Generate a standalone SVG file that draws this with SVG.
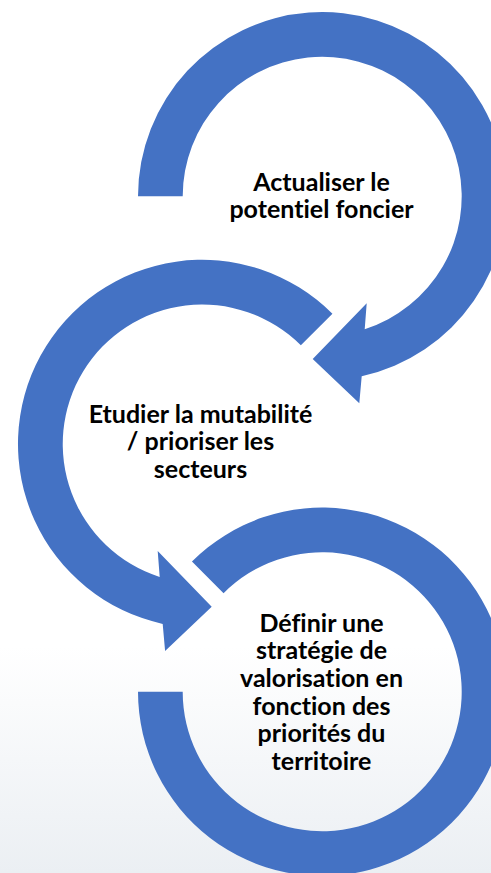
<svg xmlns="http://www.w3.org/2000/svg" width="491" height="873" viewBox="0 0 491 873">
  <defs>
    <linearGradient id="bg" x1="0" y1="0" x2="0" y2="873" gradientUnits="userSpaceOnUse">
      <stop offset="0" stop-color="#ffffff"/>
      <stop offset="0.74" stop-color="#ffffff"/>
      <stop offset="1" stop-color="#ebeff3"/>
    </linearGradient>
  </defs>
  <style>
    .arc { fill: #4472C4; stroke: none; }
    .lbl { font-family: Lato, "Liberation Sans", sans-serif; font-weight: bold; font-size: 25px; fill: #000000; text-anchor: middle; font-variant-ligatures: none; font-feature-settings: "liga" 0, "dlig" 0; }
  </style>
  <rect x="0" y="0" width="491" height="873" fill="url(#bg)"/>
  <g id="connectors"/>
  <g id="node1">
    <path class="arc" d="M 138.0 196.3 A 184.2 184.2 0 1 1 361.7 376.2 L 359.3 403.3 L 312.7 359.0 L 366.7 303.3 L 364.7 329.2 A 139.5 139.5 0 1 0 182.7 196.3 Z"/>
    <text class="lbl" x="321.5" y="190.6">Actualiser le</text>
    <text class="lbl" x="321.5" y="218.3">potentiel foncier</text>
  </g>
  <g id="node2">
    <path class="arc" d="M 332.45 313.75 A 184.2 184.2 0 1 0 162.7 623.9 L 165.1 651 L 211.7 606.7 L 157.7 551 L 159.7 576.9 A 139.5 139.5 0 1 1 300.84 345.36 Z"/>
    <text class="lbl" x="200.5" y="422.5">Etudier la mutabilité</text>
    <text class="lbl" x="200.5" y="450">/ prioriser les</text>
    <text class="lbl" x="200.5" y="477.5">secteurs</text>
  </g>
  <g id="node3">
    <path class="arc" d="M 191.95 561.55 A 184.2 184.2 0 1 1 138.0 691.8 L 182.7 691.8 A 139.5 139.5 0 1 0 223.56 593.16 Z"/>
    <text class="lbl" x="321.5" y="631.7">Définir une</text>
    <text class="lbl" x="321.5" y="659.2">stratégie de</text>
    <text class="lbl" x="321.5" y="687.2">valorisation en</text>
    <text class="lbl" x="321.5" y="714.8">fonction des</text>
    <text class="lbl" x="321.5" y="742.2">priorités du</text>
    <text class="lbl" x="321.5" y="769.8">territoire</text>
  </g>
</svg>
